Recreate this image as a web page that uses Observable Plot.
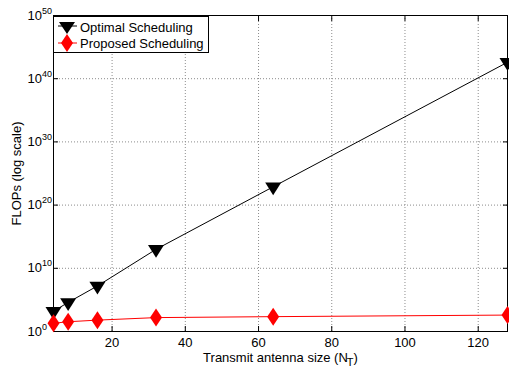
<!DOCTYPE html>
<html><head><meta charset="utf-8">
<script src="https://cdn.jsdelivr.net/npm/d3@7"></script>
<script src="https://cdn.jsdelivr.net/npm/@observablehq/plot@0.6"></script>
<style>
body{margin:0;background:#fff;}
#wrap{position:relative;width:509px;height:369px;}
.legend{position:absolute;left:53px;top:16px;width:156px;height:37px;box-sizing:border-box;border:1px solid #000;background:#fff;font:13px "Liberation Sans",Arial,sans-serif;color:#000;}
.row{position:absolute;left:0;height:16px;display:flex;align-items:center;white-space:nowrap;}
.row svg{display:block;margin-left:2px;margin-right:2px;}
</style>
</head><body>
<div id="wrap"></div>
<script>
const antennas = [4, 8, 16, 32, 64, 128];
const optimalFlops = [1.6e3, 4.0e4, 1.6e7, 1.0e13, 7.9e22, 4.0e42];
const proposedFlops = [20, 35, 63, 158, 224, 398];
const seriesNames = ["Optimal Scheduling", "Proposed Scheduling"];
const seriesColors = ["#000000", "#ff0000"];
const xTicks = [20, 40, 60, 80, 100, 120];
const yTicks = [1e0, 1e10, 1e20, 1e30, 1e40, 1e50];

const rows = [];
antennas.forEach((n, i) => {
  rows.push({n, flops: optimalFlops[i], series: seriesNames[0]});
  rows.push({n, flops: proposedFlops[i], series: seriesNames[1]});
});

const triangleDown = {
  draw(ctx, size) {
    const r = Math.sqrt(size / Math.PI);
    const h = r * 1.6;
    ctx.moveTo(-r, -h / 3);
    ctx.lineTo(r, -h / 3);
    ctx.lineTo(0, 2 * h / 3);
    ctx.closePath();
  }
};
const tallDiamond = {
  draw(ctx, size) {
    const r = Math.sqrt(size / Math.PI);
    ctx.moveTo(0, -r * 1.5);
    ctx.lineTo(r, 0);
    ctx.lineTo(0, r * 1.5);
    ctx.lineTo(-r, 0);
    ctx.closePath();
  }
};

const gridStyle = {stroke: "#8c8c8c", strokeOpacity: 1, strokeDasharray: "1,2"};

const chart = Plot.plot({
  width: 509,
  height: 369,
  marginTop: 15,
  marginRight: 2,
  marginBottom: 38,
  marginLeft: 53,
  style: {fontFamily: "'Liberation Sans', Arial, sans-serif", fontSize: "13px", background: "white", color: "black", overflow: "visible"},
  x: {domain: [4, 128]},
  y: {type: "log", domain: [1, 1e50]},
  marks: [
    Plot.gridX({ticks: xTicks, ...gridStyle}),
    Plot.gridY({ticks: yTicks.slice(1, -1), ...gridStyle}),
    Plot.axisX({ticks: xTicks, anchor: "bottom", tickSize: 0, tickPadding: 6,
      label: "Transmit antenna size (N_T)", labelAnchor: "center", labelArrow: "none", labelOffset: 30}),
    Plot.axisX({ticks: xTicks, anchor: "bottom", tickSize: -5, fill: "none", label: null}),
    Plot.axisX({ticks: xTicks, anchor: "top", tickSize: -5, fill: "none", label: null}),
    Plot.axisY({ticks: yTicks, anchor: "left", tickSize: 0, tickPadding: 0, textAnchor: "start", dx: -26,
      tickFormat: d => "10^" + Math.round(Math.log10(d)),
      label: "FLOPs (log scale)", labelAnchor: "center", labelArrow: "none", labelOffset: 42}),
    Plot.axisY({ticks: yTicks, anchor: "left", tickSize: -5, fill: "none", label: null}),
    Plot.axisY({ticks: yTicks, anchor: "right", tickSize: -5, fill: "none", label: null}),
    Plot.frame({stroke: "black", strokeWidth: 1}),
    Plot.line(rows, {x: "n", y: "flops", z: "series", stroke: "series", strokeWidth: 1}),
    Plot.dot(rows.filter(d => d.series === seriesNames[0]), {x: "n", y: "flops", r: 8, symbol: () => triangleDown, fill: seriesColors[0], stroke: "none"}),
    Plot.dot(rows.filter(d => d.series === seriesNames[1]), {x: "n", y: "flops", r: 6, symbol: () => tallDiamond, fill: seriesColors[1], stroke: "none"})
  ],
  color: {domain: seriesNames, range: seriesColors},
  symbol: {type: "identity"}
});

const svgNS = "http://www.w3.org/2000/svg";
d3.select(chart).selectAll("text").each(function() {
  const t = this;
  const s = t.textContent;
  if (/^10\^\d+$/.test(s)) {
    const exp = s.split("^")[1];
    t.textContent = "10";
    const sp = document.createElementNS(svgNS, "tspan");
    sp.setAttribute("dy", "-6");
    sp.setAttribute("font-size", "9");
    sp.textContent = exp;
    t.appendChild(sp);
  } else if (s.indexOf("(N_T)") >= 0) {
    t.textContent = s.replace("N_T)", "N");
    const sub = document.createElementNS(svgNS, "tspan");
    sub.setAttribute("dy", "4");
    sub.setAttribute("dx", "-1");
    sub.setAttribute("font-size", "11");
    sub.textContent = "T";
    t.appendChild(sub);
    const close = document.createElementNS(svgNS, "tspan");
    close.setAttribute("dy", "-4");
    close.textContent = ")";
    t.appendChild(close);
  }
});

const wrap = document.getElementById("wrap");
wrap.appendChild(chart);

const legend = document.createElement("div");
legend.className = "legend";
seriesNames.forEach((name, i) => {
  const row = document.createElement("div");
  row.className = "row";
  row.style.top = (i === 0 ? 2 : 18) + "px";
  const marker = i === 0
    ? `<polygon points="3,4 19,4 11,16" fill="${seriesColors[i]}"/>`
    : `<polygon points="11,0 17,9 11,18 5,9" fill="${seriesColors[i]}"/>`;
  row.innerHTML = `<svg width="22" height="18" viewBox="0 0 22 18"><line x1="2" y1="${i === 0 ? 8 : 9}" x2="21" y2="${i === 0 ? 8 : 9}" stroke="${seriesColors[i]}" stroke-width="1"/>${marker}</svg><span>${name}</span>`;
  legend.appendChild(row);
});
wrap.appendChild(legend);
</script>
</body></html>
